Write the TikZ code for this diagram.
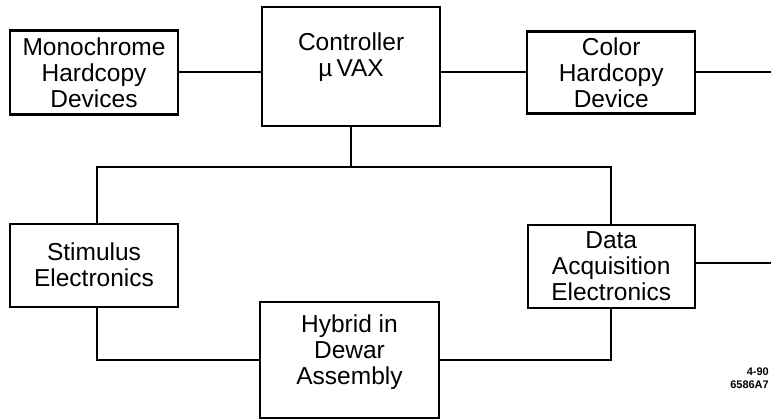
\documentclass[tikz,border=0pt]{standalone}
\usepackage{fontspec}
\setmainfont{Liberation Sans}
\usepackage{tikz}
\usetikzlibrary{positioning,calc}

\begin{document}
\begin{tikzpicture}[x=1pt, y=1pt, auto]
  \tikzstyle{block} = [rectangle, draw=black, fill=white, line width=2.1pt, minimum width=168pt, minimum height=84pt, inner sep=2pt, font=\fontsize{24.5}{26}\selectfont, align=center]
  \tikzstyle{line} = [draw=black, line width=2pt]
  \useasboundingbox (0,0) rectangle (771,-420);

  \node [block] (mono) at (94,-72.5) {Monochrome\\Hardcopy\\Devices};
  \node [block, minimum width=178pt, minimum height=119pt, text depth=24pt, right=82pt of mono, yshift=6pt] (ctrl) {Controller\\µ\,VAX};
  \node [block, minimum height=82pt, right=85pt of ctrl, yshift=-6pt] (color) {Color\\Hardcopy\\Device};
  \node [block, minimum height=83pt, below=107pt of mono] (stim) {Stimulus\\Electronics};
  \node [block, minimum width=167pt, minimum height=83pt, below=109pt of color] (daq) {Data\\Acquisition\\Electronics};
  \node [block, minimum width=179pt, minimum height=116pt, text depth=20pt] (hybrid) at (349.5,-360) {Hybrid in\\Dewar\\Assembly};

  \coordinate (bus) at (349,-167);
  \coordinate (out1) at (775,-72);
  \coordinate (out2) at (775,-263);

  \path [line] (mono.east) -- (ctrl.west |- mono.east);
  \path [line] (ctrl.east |- color.west) -- (color.west);
  \path [line] (color.east) -- (color.east -| out1);
  \path [line] (ctrl.south) -- (ctrl.south |- bus);
  \path [line] ([xshift=3pt]stim.north) |- (bus) -| (daq.north);
  \path [line] ([xshift=3pt]stim.south) |- (hybrid.west);
  \path [line] (daq.south) |- (hybrid.east);
  \path [line] (daq.east |- out2) -- (out2);

  \node [anchor=north east, align=right, inner sep=0pt, font=\fontsize{11}{13}\selectfont\bfseries] (tag) at (769,-368) {4-90\\6586A7};
\end{tikzpicture}
\end{document}
